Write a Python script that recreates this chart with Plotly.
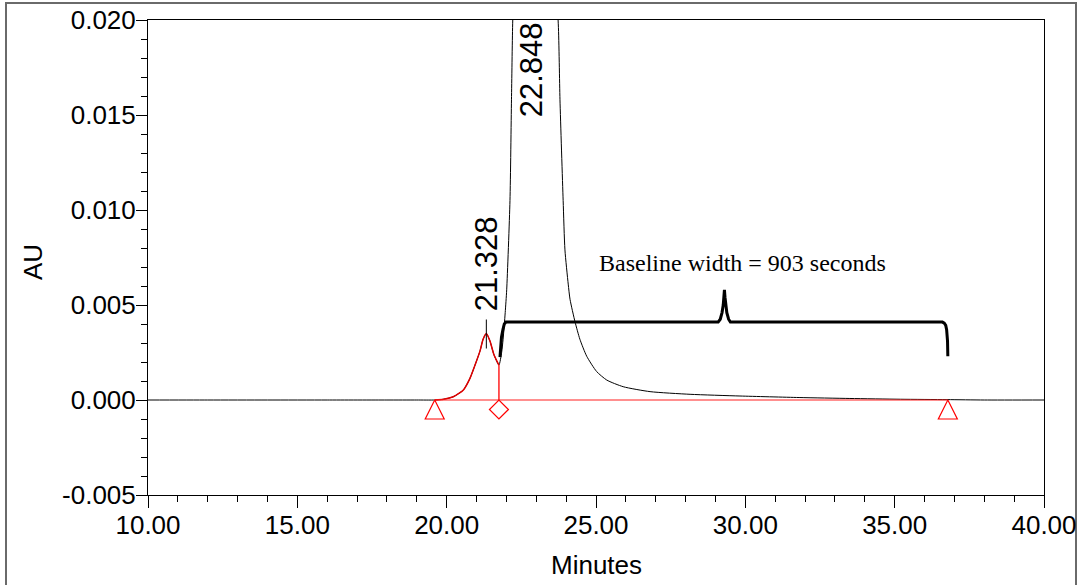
import plotly.graph_objects as go

# ---- data ----
time_min = [10.0, 12.0, 14.0, 16.0, 18.0, 19.0, 19.6, 19.9, 20.22, 20.56, 20.78, 20.95, 21.12, 21.22,
            21.328, 21.45, 21.58, 21.75, 21.84, 21.89, 21.96, 22.01, 22.12, 22.17, 22.21,
            22.35, 22.55, 22.848, 23.15, 23.45, 23.737, 23.794, 23.90, 23.96, 24.07, 24.13, 24.30,
            24.46, 24.69, 25.02, 25.36, 25.91, 26.81, 28.15, 29.82, 31.8, 33.5, 35.2, 36.75, 38.0, 40.0]
absorb_au = [0.0, 0.0, 0.0, 0.0, 0.0, 0.0, 0.0, 0.00004, 0.00017, 0.00053, 0.00114, 0.00184, 0.0026, 0.0032,
             0.0035, 0.0031, 0.0024, 0.00184, 0.0025, 0.0032, 0.0046, 0.0058, 0.0105, 0.0158, 0.0198,
             0.027, 0.036, 0.042, 0.036, 0.027, 0.0198, 0.0158, 0.0105, 0.0079, 0.0061, 0.0053, 0.0041,
             0.0032, 0.0023, 0.0015, 0.00105, 0.0007, 0.00044, 0.0003, 0.00021, 0.00013, 0.00008, 0.00004, 0.00002, 0.0, 0.0]

peak_times = [21.328, 22.848]
peak_labels = ["21.328", "22.848"]

integ_start = 19.6
integ_drop = 21.75
integ_end = 36.78

bracket_x = [21.785, 21.80, 21.835, 21.885, 21.93, 21.986, 29.09, 29.16, 29.22, 29.26, 29.28, 29.30,
             29.32, 29.34, 29.38, 29.44, 29.50, 36.6, 36.66, 36.71, 36.74, 36.77, 36.78]
bracket_y = [0.00226, 0.0028, 0.00330, 0.00372, 0.00400, 0.0041, 0.0041, 0.00425, 0.0046, 0.0050, 0.0054, 0.0058,
             0.0054, 0.0050, 0.0046, 0.00425, 0.0041, 0.0041, 0.00405, 0.00393, 0.0037, 0.0031, 0.0023]
bracket_text = "Baseline width = 903 seconds"
bracket_text_pos = (29.9, 0.0072)

x_range = [10, 40]
y_range = [-0.005, 0.020]
x_tickvals = [10, 15, 20, 25, 30, 35, 40]
x_ticktext = ["10.00", "15.00", "20.00", "25.00", "30.00", "35.00", "40.00"]
y_tickvals = [-0.005, 0.0, 0.005, 0.010, 0.015, 0.020]
y_ticktext = ["-0.005", "0.000", "0.005", "0.010", "0.015", "0.020"]

# ---- layout geometry ----
W, H = 1082, 585
ML, MR, MT, MB = 148, 38, 20, 90
plot_h = H - MT - MB
plot_w = W - ML - MR
au_per_px = (y_range[1] - y_range[0]) / plot_h

fig = go.Figure()

# full chromatogram (black)
fig.add_trace(go.Scatter(x=time_min, y=absorb_au, mode="lines",
                         line=dict(color="black", width=1, shape="spline", smoothing=0.6),
                         hoverinfo="skip", showlegend=False))

# integrated first peak (red)
red_x = [t for t in time_min if integ_start <= t <= integ_drop]
red_y = [v for t, v in zip(time_min, absorb_au) if integ_start <= t <= integ_drop]
fig.add_trace(go.Scatter(x=red_x, y=red_y, mode="lines",
                         line=dict(color="#e00000", width=1.5, shape="spline", smoothing=0.6),
                         hoverinfo="skip", showlegend=False))

# red baseline
fig.add_trace(go.Scatter(x=[integ_start, integ_end], y=[0, 0], mode="lines",
                         line=dict(color="#ff2020", width=1.2), hoverinfo="skip", showlegend=False))
# drop line
drop_h = red_y[-1]
fig.add_trace(go.Scatter(x=[integ_drop, integ_drop], y=[0, drop_h], mode="lines",
                         line=dict(color="#ff2020", width=1.5), hoverinfo="skip", showlegend=False))

# start / end triangles (apex at baseline)
fig.add_trace(go.Scatter(x=[integ_start, integ_end], y=[0, 0], mode="markers",
                         marker=dict(symbol="arrow-up-open", size=19, color="red",
                                     line=dict(color="red", width=1.2)),
                         hoverinfo="skip", showlegend=False, cliponaxis=False))
# drop diamond (top corner at baseline)
dsize = 14.6
fig.add_trace(go.Scatter(x=[integ_drop], y=[0 - 1.3 * dsize / 2 * au_per_px], mode="markers",
                         marker=dict(symbol="diamond-open", size=dsize, color="red",
                                     line=dict(color="red", width=1.2)),
                         hoverinfo="skip", showlegend=False, cliponaxis=False))

# bracket
fig.add_trace(go.Scatter(x=bracket_x, y=bracket_y, mode="lines",
                         line=dict(color="black", width=3),
                         hoverinfo="skip", showlegend=False))

fig.add_annotation(x=bracket_text_pos[0], y=bracket_text_pos[1], text=bracket_text,
                   showarrow=False, xanchor="center", yanchor="middle",
                   font=dict(family="Liberation Serif, Times New Roman, serif", size=24, color="black"))

# peak labels
p1 = peak_times[0]
p1_h = absorb_au[time_min.index(p1)]
fig.add_shape(type="line", x0=p1, x1=p1, y0=p1_h - 15 * au_per_px, y1=p1_h + 14 * au_per_px,
              line=dict(color="black", width=1))
fig.add_annotation(x=p1, y=p1_h, yshift=20, text=peak_labels[0], textangle=-90,
                   showarrow=False, xanchor="center", yanchor="bottom",
                   font=dict(family="Arial, Liberation Sans", size=31, color="black"))
fig.add_annotation(x=peak_times[1], y=y_range[1], text=peak_labels[1], textangle=-90,
                   showarrow=False, xanchor="center", yanchor="top",
                   font=dict(family="Arial, Liberation Sans", size=31, color="black"))

# axis titles
fig.add_annotation(xref="paper", yref="paper", x=0, y=(H - MB - 262) / plot_h, xshift=33 - ML,
                   text="AU", textangle=-90, showarrow=False, xanchor="center", yanchor="middle",
                   font=dict(family="Arial, Liberation Sans", size=26, color="black"))
fig.add_annotation(xref="paper", yref="paper", x=0.5, y=0, yshift=-(565 - (H - MB)),
                   text="Minutes", showarrow=False, xanchor="center", yanchor="middle",
                   font=dict(family="Arial, Liberation Sans", size=26, color="black"))

# outer gray frame
fig.add_shape(type="rect", xref="paper", yref="paper",
              x0=(6 - ML) / plot_w, x1=(1076 - ML) / plot_w,
              y0=(H - MB - 600) / plot_h, y1=(H - MB - 3) / plot_h,
              line=dict(color="#6a6a6a", width=2), layer="below")

fig.update_xaxes(range=x_range, tickmode="array", tickvals=x_tickvals, ticktext=x_ticktext,
                 ticks="outside", ticklen=12, tickcolor="black", tickwidth=1,
                 minor=dict(tickmode="linear", tick0=10, dtick=1, ticks="outside", ticklen=6,
                            tickcolor="black", tickwidth=1),
                 showline=True, linecolor="black", linewidth=1, mirror=True,
                 showgrid=False, zeroline=False, automargin=False, ticklabelstandoff=-5,
                 tickfont=dict(family="Arial, Liberation Sans", size=26, color="black"))
fig.update_yaxes(range=y_range, tickmode="array", tickvals=y_tickvals, ticktext=y_ticktext,
                 ticks="outside", ticklen=11, tickcolor="black", tickwidth=1,
                 minor=dict(tickmode="linear", tick0=0, dtick=0.001, ticks="outside", ticklen=6,
                            tickcolor="black", tickwidth=1),
                 showline=True, linecolor="black", linewidth=1, mirror=True,
                 showgrid=False, zeroline=False, automargin=False, ticklabelstandoff=-5,
                 tickfont=dict(family="Arial, Liberation Sans", size=26, color="black"))

fig.update_layout(width=W, height=H, margin=dict(l=ML, r=MR, t=MT, b=MB),
                  paper_bgcolor="white", plot_bgcolor="white", showlegend=False)

fig.write_html("out.html")
